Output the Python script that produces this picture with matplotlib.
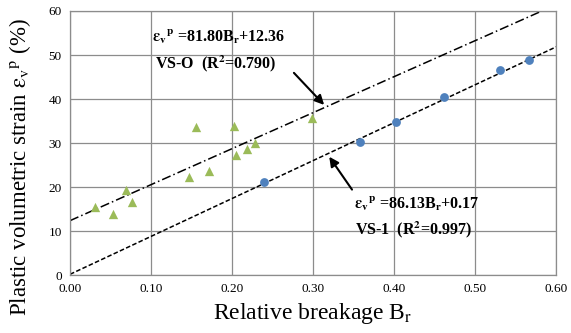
import numpy as np
import matplotlib.pyplot as plt

plt.rcParams['font.family'] = ['Liberation Serif', 'DejaVu Serif']
plt.rcParams['mathtext.fontset'] = 'stix'

# VS-O samples (triangles)
br_o = [0.031, 0.053, 0.069, 0.077, 0.147, 0.155, 0.172, 0.2025, 0.205, 0.218, 0.228, 0.299]
ev_o = [15.4, 13.8, 19.3, 16.7, 22.3, 33.6, 23.6, 33.9, 27.2, 28.6, 30.1, 35.6]

# VS-1 samples (circles)
br_1 = [0.239, 0.358, 0.402, 0.461, 0.531, 0.567]
ev_1 = [21.2, 30.3, 34.7, 40.5, 46.7, 48.9]

# linear fits
fit_o = (81.80, 12.36)
fit_1 = (86.13, 0.17)

xticks = [0.0, 0.1, 0.2, 0.3, 0.4, 0.5, 0.6]
yticks = [0, 10, 20, 30, 40, 50, 60]

fig = plt.figure(figsize=(5.71, 3.33), dpi=100)
ax = fig.add_axes([0.1226, 0.174, 0.8514, 0.793])

xl = np.array([0.0, 0.6])
ax.plot(xl, fit_o[0] * xl + fit_o[1], color='black', lw=1.1, dashes=(6, 2, 1, 2), zorder=2)
ax.plot(xl, fit_1[0] * xl + fit_1[1], color='black', lw=1.1, dashes=(3, 1.5), zorder=2)

ax.scatter(br_o, ev_o, marker='^', s=45, color='#9BBB59', zorder=3, linewidths=0)
ax.scatter(br_1, ev_1, marker='o', s=40, color='#4F81BD', zorder=3, linewidths=0)

ax.set_xlim(0, 0.6)
ax.set_ylim(0, 60)
ax.set_xticks(xticks)
ax.set_yticks(yticks)
ax.set_xticklabels([f'{t:.2f}' for t in xticks])
ax.tick_params(length=0, labelsize=9.5, pad=6)
ax.grid(True, color='#8c8c8c', lw=0.9)
ax.set_axisbelow(True)
for s in ax.spines.values():
    s.set_color('#8c8c8c')
    s.set_linewidth(0.9)

ax.set_xlabel(r'Relative breakage B$_\mathrm{r}$', fontsize=17, labelpad=4)
ax.set_ylabel(r'Plastic volumetric strain $\mathrm{\varepsilon_v{}^p}$ (%)', fontsize=16.5)
ax.yaxis.set_label_coords(-0.075, 0.41)

bold = dict(fontsize=11.5, fontweight='bold', va='center')
ax.text(0.101, 54.2, r'$\mathbf{\varepsilon_v{}^p}$ =81.80B$_\mathbf{r}$+12.36', **bold)
ax.text(0.105, 48.1, r'VS-O  (R$^\mathbf{2}$=0.790)', **bold)
ax.text(0.350, 16.3, r'$\mathbf{\varepsilon_v{}^p}$ =86.13B$_\mathbf{r}$+0.17', **bold)
ax.text(0.352, 10.2, r'VS-1  (R$^\mathbf{2}$=0.997)', **bold)

arrow = dict(arrowstyle='-|>', color='black', lw=1.5, mutation_scale=14)
ax.annotate('', xy=(0.316, 38.2), xytext=(0.274, 46.4), arrowprops=arrow)
ax.annotate('', xy=(0.318, 27.4), xytext=(0.350, 18.9), arrowprops=arrow)

fig.savefig('out.png', dpi=100)
